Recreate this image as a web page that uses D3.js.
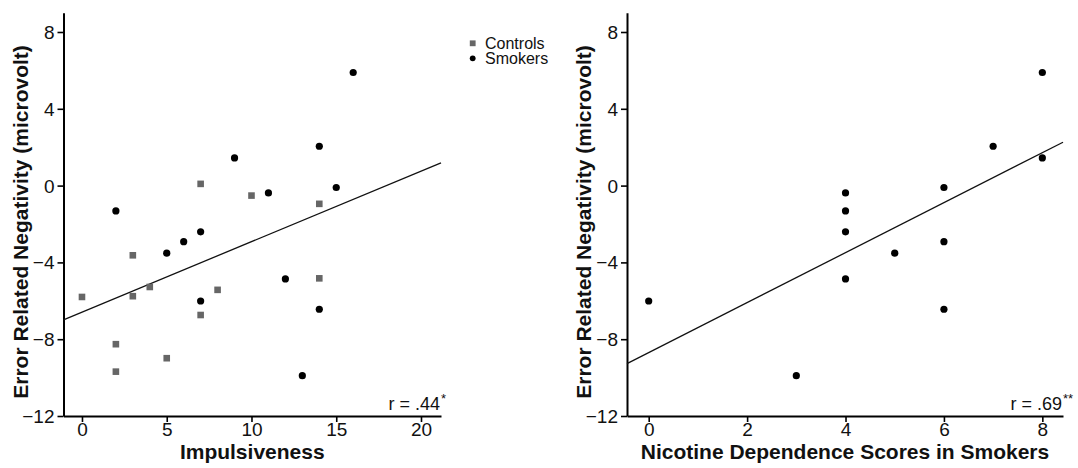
<!DOCTYPE html>
<html>
<head>
<meta charset="utf-8">
<script src="https://cdn.jsdelivr.net/npm/d3@7"></script>
<style>
  html, body { margin: 0; padding: 0; background: #fff; }
  svg { display: block; font-family: "Liberation Sans", Arial, Helvetica, sans-serif; }
</style>
</head>
<body>
<svg id="chart" width="1078" height="468"></svg>
<script>
// ---- Data ----
// Controls: impulsiveness vs ERN
const controlsImpulsiveness = [0, 2, 2, 3, 3, 4, 5, 7, 7, 8, 10, 14, 14];
const controlsERN = [-5.80, -8.26, -9.69, -3.63, -5.76, -5.28, -8.99, 0.09, -6.74, -5.43, -0.52, -0.95, -4.83];
// Smokers: impulsiveness, nicotine dependence and ERN
const smokersImpulsiveness = [2, 5, 6, 7, 7, 9, 11, 12, 13, 14, 14, 15, 16];
const smokersNicotine = [4, 5, 6, 4, 0, 8, 4, 4, 3, 7, 6, 6, 8];
const smokersERN = [-1.32, -3.52, -2.92, -2.41, -6.01, 1.44, -0.38, -4.86, -9.90, 2.05, -6.44, -0.10, 5.89];

const yTicks = [-12, -8, -4, 0, 4, 8];
const xTicksLeft = [0, 5, 10, 15, 20];
const xTicksRight = [0, 2, 4, 6, 8];
const legendLabels = ["Controls", "Smokers"];
const corrLeft = { r: "r = .44", sig: "*" };
const corrRight = { r: "r = .69", sig: "**" };
const yTitle = "Error Related Negativity (microvolt)";
const xTitleLeft = "Impulsiveness";
const xTitleRight = "Nicotine Dependence Scores in Smokers";

// ---- Helpers ----
function ols(xs, ys) {
  const n = xs.length;
  const mx = d3.mean(xs), my = d3.mean(ys);
  let sxy = 0, sxx = 0;
  for (let i = 0; i < n; i++) { sxy += (xs[i] - mx) * (ys[i] - my); sxx += (xs[i] - mx) ** 2; }
  const b = sxy / sxx;
  return { a: my - b * mx, b };
}

const svg = d3.select("#chart");
const FONT_TICK = 19, FONT_TITLE = 21;
const CTRL_COLOR = "#666666";

function panel(opts) {
  const { x0, x1, xDomain, xTicks, xTitle, corr } = opts;
  const yTop = 12.8, yBottom = 416;
  const x = d3.scaleLinear().domain(xDomain).range([x0, x1]);
  const y = d3.scaleLinear().domain([-12, 9]).range([yBottom, yTop]);
  const g = svg.append("g");

  // axes
  const yAxis = g.append("g").attr("transform", `translate(${x0},0)`)
    .call(d3.axisLeft(y).tickValues(yTicks).tickSize(6).tickSizeOuter(0).tickPadding(3));
  const xAxis = g.append("g").attr("transform", `translate(0,${yBottom})`)
    .call(d3.axisBottom(x).tickValues(xTicks).tickSize(6).tickSizeOuter(0).tickPadding(1));
  [yAxis, xAxis].forEach(ax => {
    ax.attr("font-size", null).attr("font-family", null);
    ax.select(".domain").attr("stroke", "#000").attr("stroke-width", 2);
    ax.selectAll(".tick line").attr("stroke", "#000").attr("stroke-width", 1.6);
    ax.selectAll(".tick text").attr("fill", "#111")
      .attr("font-size", FONT_TICK).style("font-size", FONT_TICK + "px")
      .style("font-family", '"Liberation Sans", Arial, sans-serif');
  });
  yAxis.selectAll(".tick text").attr("dy", "0.34em");

  // regression line across full x extent
  const fit = ols(opts.fitX, opts.fitY);
  const xd = x.domain();
  g.append("line")
    .attr("x1", x(xd[0])).attr("y1", y(fit.a + fit.b * xd[0]))
    .attr("x2", x(xd[1])).attr("y2", y(fit.a + fit.b * xd[1]))
    .attr("stroke", "#111").attr("stroke-width", 1.3);

  // squares (controls)
  if (opts.sqX) {
    g.selectAll("rect.ctrl").data(opts.sqX.map((v, i) => [v, opts.sqY[i]]))
      .join("rect").attr("class", "ctrl")
      .attr("x", d => x(d[0]) - 3.3).attr("y", d => y(d[1]) - 3.3)
      .attr("width", 6.6).attr("height", 6.6).attr("fill", CTRL_COLOR);
  }
  // circles (smokers)
  g.selectAll("circle.smk").data(opts.cX.map((v, i) => [v, opts.cY[i]]))
    .join("circle").attr("class", "smk")
    .attr("cx", d => x(d[0])).attr("cy", d => y(d[1])).attr("r", 3.6).attr("fill", "#000");

  // titles
  g.append("text").attr("x", (x0 + x1) / 2).attr("y", 459)
    .attr("text-anchor", "middle").style("font-size", FONT_TITLE + "px").style("font-weight", "bold")
    .attr("fill", "#111").text(xTitle);
  g.append("text").attr("transform", `translate(${x0 - 36},222) rotate(-90)`)
    .attr("text-anchor", "middle").style("font-size", FONT_TITLE + "px").style("font-weight", "bold")
    .attr("fill", "#111").text(yTitle);

  // correlation
  g.append("text").attr("x", x1 - 1).attr("y", 410).attr("text-anchor", "end")
    .style("font-size", "18px").attr("fill", "#111").text(corr.r);
  g.append("text").attr("x", x1).attr("y", 403).attr("text-anchor", "start")
    .style("font-size", "13px").attr("fill", "#111").text(corr.sig);
  return g;
}

panel({
  x0: 63.5, x1: 441, xDomain: [-1.09, 21.18], xTicks: xTicksLeft, xTitle: xTitleLeft, corr: corrLeft,
  fitX: controlsImpulsiveness.concat(smokersImpulsiveness), fitY: controlsERN.concat(smokersERN),
  sqX: controlsImpulsiveness, sqY: controlsERN, cX: smokersImpulsiveness, cY: smokersERN
});

panel({
  x0: 627, x1: 1063, xDomain: [-0.441, 8.42], xTicks: xTicksRight, xTitle: xTitleRight, corr: corrRight,
  fitX: smokersNicotine, fitY: smokersERN, cX: smokersNicotine, cY: smokersERN
});

// legend
const lg = svg.append("g");
lg.append("rect").attr("x", 472.7 - 2.9).attr("y", 43.3 - 2.9).attr("width", 5.8).attr("height", 5.8).attr("fill", CTRL_COLOR);
lg.append("circle").attr("cx", 472.7).attr("cy", 58.3).attr("r", 2.9).attr("fill", "#000");
lg.selectAll("text").data(legendLabels).join("text")
  .attr("x", 485).attr("y", (d, i) => 43.3 + i * 15 + 5.5)
  .style("font-size", "16px").attr("fill", "#111").text(d => d);
</script>
</body>
</html>
